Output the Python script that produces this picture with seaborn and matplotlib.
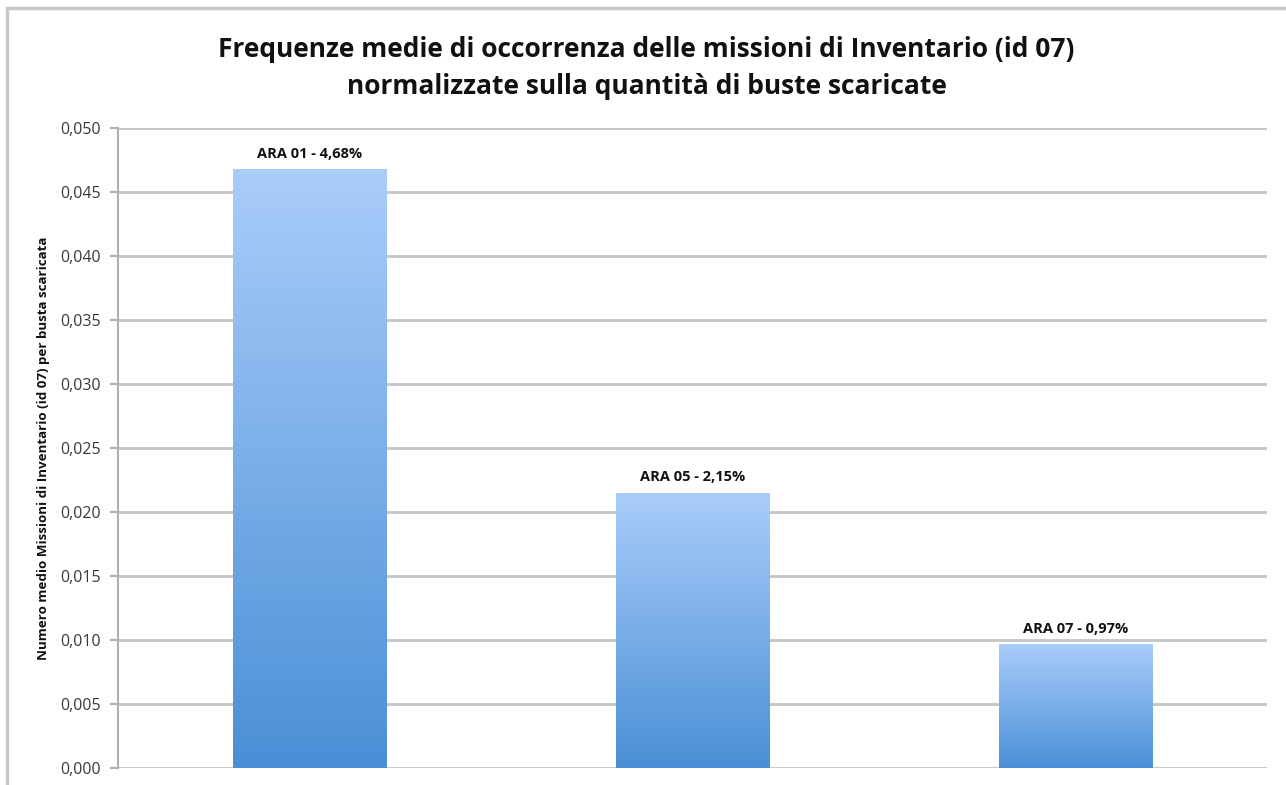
import numpy as np
import pandas as pd
import matplotlib
matplotlib.use("Agg")
import matplotlib.pyplot as plt
from matplotlib.colors import LinearSegmentedColormap
from matplotlib.patches import Rectangle
from matplotlib.ticker import FuncFormatter, MultipleLocator
import seaborn as sns

# Data
categories = ["ARA 01", "ARA 05", "ARA 07"]
frequencies = [0.0468, 0.0215, 0.0097]
value_labels = ["ARA 01 - 4,68%", "ARA 05 - 2,15%", "ARA 07 - 0,97%"]

title = ("Frequenze medie di occorrenza delle missioni di Inventario (id 07)\n"
         "normalizzate sulla quantità di buste scaricate")
ylabel = "Numero medio Missioni di Inventario (id 07) per busta scaricata"

df = pd.DataFrame({"area": categories, "freq": frequencies})

sns.set_theme(style="white")
plt.rcParams["font.family"] = ["Open Sans", "DejaVu Sans"]

W, H = 1286, 785
fig = plt.figure(figsize=(W / 100, H / 100), dpi=100)
fig.patch.set_facecolor("white")

# outer frame of the chart area
fig.patches.append(Rectangle((7 / W, 0 - 0.01), 1.2, (H - 8) / H + 0.01,
                             transform=fig.transFigure, fill=False,
                             edgecolor="#c8c8c8", linewidth=2.5, zorder=0))

ax = fig.add_axes([118 / W, (H - 768) / H, (1267 - 118) / W, (768 - 128) / H])

sns.barplot(data=df, x="area", y="freq", ax=ax, width=0.40,
            color="#6aa4e6", saturation=1, edgecolor="none", zorder=3)

ax.set_ylim(0, 0.050)
ax.set_xlim(-0.5, len(categories) - 0.5)
ax.yaxis.set_major_locator(MultipleLocator(0.005))
ax.yaxis.set_major_formatter(FuncFormatter(lambda v, _: f"{v:.3f}".replace(".", ",")))
ax.grid(axis="y", color="#c4c4c4", linewidth=2, zorder=0)
ax.set_axisbelow(True)

for side in ["top", "right", "bottom"]:
    ax.spines[side].set_visible(False)
ax.spines["left"].set_color("#b0b0b0")
ax.spines["left"].set_linewidth(1.5)

ax.tick_params(axis="y", which="major", length=6, width=1.5, color="#b0b0b0",
               labelsize=11.5, labelcolor="#3a3a3a", pad=6, left=True)
ax.tick_params(axis="x", bottom=False, labelbottom=False)
ax.set_xlabel("")
ax.set_ylabel(ylabel, fontsize=9.6, fontweight="bold", color="#111111", labelpad=8)

# vertical gradient fill for each bar
grad_cmap = LinearSegmentedColormap.from_list("bar_grad", ["#4a8fd6", "#aacdfa"])
gradient = np.linspace(0, 1, 256).reshape(-1, 1)
for patch in list(ax.patches):
    x0, y0 = patch.get_x(), patch.get_y()
    w, h = patch.get_width(), patch.get_height()
    im = ax.imshow(gradient, cmap=grad_cmap, aspect="auto", origin="lower",
                   extent=(x0, x0 + w, y0, y0 + h), zorder=4)
    im.set_clip_path(patch)
    patch.set_facecolor("none")

ax.set_xlim(-0.5, len(categories) - 0.5)
ax.set_ylim(0, 0.050)

for i, (v, lab) in enumerate(zip(frequencies, value_labels)):
    ax.annotate(lab, (i, v), xytext=(0, 6), textcoords="offset points",
                ha="center", va="bottom", fontsize=10.5, fontweight="bold",
                color="#111111", zorder=5)

fig.text(0.5 * (215 + 1078) / W, (H - 68) / H, title, ha="center", va="center",
         fontsize=19, fontweight="bold", color="#111111", linespacing=1.45)

fig.savefig("out.png", dpi=100, facecolor="white")
